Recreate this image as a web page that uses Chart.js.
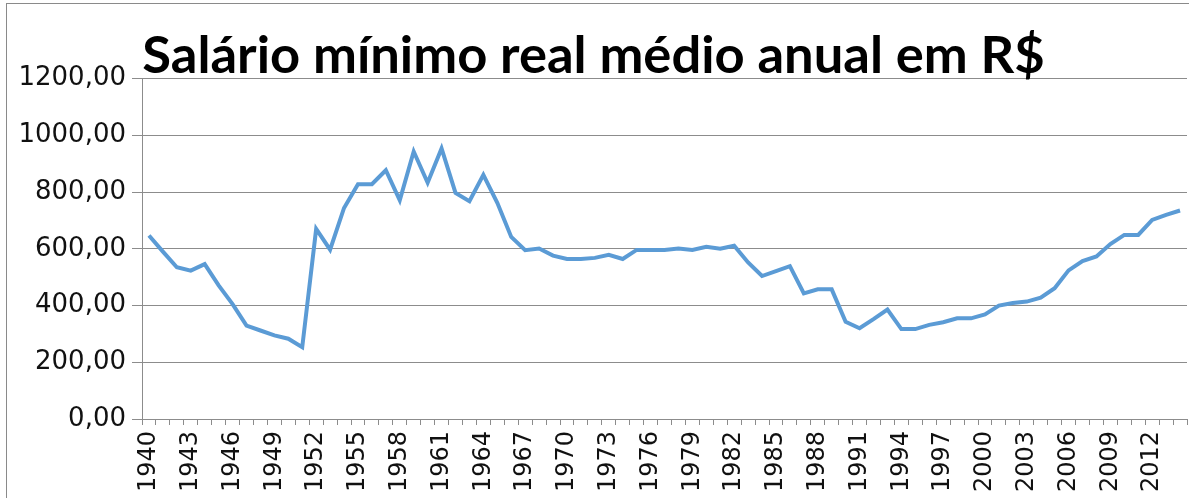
<!DOCTYPE html>
<html>
<head>
<meta charset="utf-8">
<title>Salário mínimo real médio anual em R$</title>
<script src="https://cdn.jsdelivr.net/npm/chart.js"></script>
<style>
  body { margin: 0; background: #fff; }
  #wrap { position: relative; width: 1189px; height: 498px; overflow: hidden; }
  #frame { position: absolute; left: 6px; top: 3px; width: 1200px; height: 520px;
           border-left: 1px solid #8a8a8a; border-top: 1px solid #8a8a8a; pointer-events: none; }
</style>
</head>
<body>
<div id="wrap">
  <canvas id="salarioChart" width="1189" height="498"></canvas>
  <div id="frame"></div>
</div>
<script>
// anos (categorias do eixo x)
const years = [
  '1940','1941','1942','1943','1944','1945','1946','1947','1948','1949',
  '1950','1951','1952','1953','1954','1955','1956','1957','1958','1959',
  '1960','1961','1962','1963','1964','1965','1966','1967','1968','1969',
  '1970','1971','1972','1973','1974','1975','1976','1977','1978','1979',
  '1980','1981','1982','1983','1984','1985','1986','1987','1988','1989',
  '1990','1991','1992','1993','1994','1995','1996','1997','1998','1999',
  '2000','2001','2002','2003','2004','2005','2006','2007','2008','2009',
  '2010','2011','2012','2013','2014'
];

// salário mínimo real médio anual (R$)
const salario = [
  647, 590, 535, 523, 546, 471, 405, 329, 312, 295,
  283, 253, 670, 597, 744, 828, 828, 877, 771, 943,
  833, 954, 797, 768, 861, 762, 642, 595, 601, 576,
  564, 564, 568, 579, 564, 596, 596, 596, 601, 596,
  607, 600, 611, 552, 504, 521, 539, 443, 457, 457,
  343, 320, 352, 386, 317, 317, 332, 341, 355, 355,
  369, 400, 409, 414, 428, 461, 524, 557, 573, 617,
  649, 649, 702, 720, 735
];

// rótulos mostrados no eixo x (de 3 em 3 anos)
const shownYears = [
  '1940','1943','1946','1949','1952','1955','1958','1961','1964','1967',
  '1970','1973','1976','1979','1982','1985','1988','1991','1994','1997',
  '2000','2003','2006','2009','2012'
];

// ticks do eixo y
const yTicks = [0, 200, 400, 600, 800, 1000, 1200];

const gridGray = '#8c8c8c';

const ctx = document.getElementById('salarioChart').getContext('2d');
new Chart(ctx, {
  type: 'line',
  data: {
    labels: years,
    datasets: [{
      label: 'Salário mínimo real',
      data: salario,
      borderColor: '#5b9bd5',
      borderWidth: 4,
      pointRadius: 0,
      tension: 0,
      fill: false
    }]
  },
  options: {
    responsive: false,
    animation: false,
    layout: { padding: { top: 0, left: 0, right: 2, bottom: 0 } },
    plugins: {
      legend: { display: false },
      tooltip: { enabled: false },
      title: {
        display: true,
        text: 'Salário mínimo real médio anual em R$',
        color: '#000',
        font: { family: 'Lato', size: 52.5, weight: 'bold', lineHeight: 0.85 },
        padding: { top: 34, bottom: 0 }
      }
    },
    scales: {
      x: {
        offset: true,
        afterFit: (scale) => {
          scale.height = 79;
          // sem folga extra à direita para o último rótulo
          scale.paddingLeft = 0;
          scale.paddingRight = 0;
        },
        grid: {
          offset: true,
          drawOnChartArea: false,
          drawTicks: true,
          tickLength: 6,
          color: gridGray
        },
        border: { color: gridGray },
        ticks: {
          autoSkip: false,
          minRotation: 90,
          maxRotation: 90,
          padding: 6,
          color: '#111',
          font: { family: 'DejaVu Sans', size: 24 },
          callback: function (value) {
            const lab = this.getLabelForValue(value);
            return shownYears.includes(lab) ? lab : '';
          }
        }
      },
      y: {
        min: yTicks[0],
        max: yTicks[yTicks.length - 1],
        afterFit: (scale) => { scale.width = 142; },
        afterBuildTicks: (scale) => { scale.ticks = yTicks.map(v => ({ value: v })); },
        grid: {
          color: gridGray,
          tickLength: 10,
          drawTicks: true
        },
        border: { color: gridGray },
        ticks: {
          padding: 6,
          color: '#111',
          font: { family: 'DejaVu Sans', size: 26 },
          callback: (v) => v.toFixed(2).replace('.', ',')
        }
      }
    }
  }
});
</script>
</body>
</html>
